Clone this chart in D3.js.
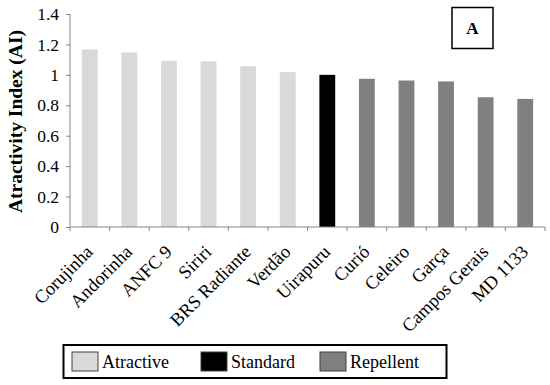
<!DOCTYPE html>
<html lang="en">
<head>
  <meta charset="UTF-8">
  <title>Atractivity Index</title>
  <script src="https://cdn.jsdelivr.net/npm/d3@7"></script>
  <style>
    body { margin: 0; background: #fff; }
  </style>
</head>
<body>
  <div id="chart"></div>

  <script>
    const cultivars = ["Corujinha", "Andorinha", "ANFC 9", "Siriri", "BRS Radiante", "Verdão",
      "Uirapuru", "Curió", "Celeiro", "Garça", "Campos Gerais", "MD 1133"];
    const values = [1.167, 1.147, 1.092, 1.088, 1.057, 1.018, 1.0, 0.974, 0.963, 0.957, 0.853, 0.842];
    const groups = ["Atractive", "Atractive", "Atractive", "Atractive", "Atractive", "Atractive",
      "Standard", "Repellent", "Repellent", "Repellent", "Repellent", "Repellent"];
    const legendNames = ["Atractive", "Standard", "Repellent"];
    const yTicks = [0, 0.2, 0.4, 0.6, 0.8, 1, 1.2, 1.4];

    const width = 550, height = 385;
    const plotLeft = 70, plotRight = 545, plotTop = 14, plotBottom = 227;
    const serif = '"Liberation Serif", "Times New Roman", serif';

    const svg = d3.select('#chart')
      .append('svg')
        .attr('width', width)
        .attr('height', height)
        .attr('font-family', serif);

    const x = d3.scaleBand()
      .domain(cultivars)
      .range([plotLeft, plotRight])
      .paddingInner(0.6)
      .paddingOuter(0.3);

    const y = d3.scaleLinear()
      .domain([0, 1.4])
      .range([plotBottom, plotTop]);

    const color = d3.scaleOrdinal()
      .domain(legendNames)
      .range(["#d9d9d9", "#000000", "#808080"]);

    // bars
    svg.append('g')
      .selectAll('rect')
      .data(cultivars)
      .join('rect')
        .attr('x', d => x(d))
        .attr('y', (d, i) => y(values[i]))
        .attr('width', x.bandwidth())
        .attr('height', (d, i) => y(0) - y(values[i]))
        .attr('fill', (d, i) => color(groups[i]));

    // y axis
    const yAxis = svg.append('g')
      .attr('transform', `translate(${plotLeft},0)`)
      .call(d3.axisLeft(y).tickValues(yTicks).tickSize(4).tickPadding(7)
        .tickFormat(d => d3.format('~g')(d)))
      .attr('font-family', serif)
      .attr('font-size', 17.5);
    yAxis.selectAll('line, path').attr('stroke', '#868686');
    yAxis.select('.domain').attr('d', `M0,${plotTop}V${plotBottom}`);
    yAxis.selectAll('text').attr('fill', '#000');

    // x axis, ticks between categories
    const edges = d3.range(cultivars.length + 1).map(i => plotLeft + i * (plotRight - plotLeft) / cultivars.length);
    const xAxis = svg.append('g');
    xAxis.append('line')
      .attr('x1', plotLeft).attr('x2', plotRight)
      .attr('y1', plotBottom).attr('y2', plotBottom)
      .attr('stroke', '#868686');
    xAxis.selectAll('.tk')
      .data(edges)
      .join('line')
        .attr('class', 'tk')
        .attr('x1', d => d).attr('x2', d => d)
        .attr('y1', plotBottom).attr('y2', plotBottom + 4)
        .attr('stroke', '#868686');

    xAxis.selectAll('text')
      .data(cultivars)
      .join('text')
        .attr('transform', d => `translate(${x(d) + x.bandwidth() / 2 + 4},${plotBottom + 26}) rotate(-45)`)
        .attr('text-anchor', 'end')
        .attr('font-size', 18.5)
        .text(d => d);

    // y axis title
    svg.append('text')
      .attr('transform', 'translate(22,121.5) rotate(-90)')
      .attr('text-anchor', 'middle')
      .attr('font-size', 19.5)
      .attr('font-weight', 'bold')
      .text('Atractivity Index (AI)');

    // panel label
    svg.append('rect')
      .attr('x', 452).attr('y', 7.5)
      .attr('width', 41).attr('height', 41)
      .attr('fill', '#fff').attr('stroke', '#000').attr('stroke-width', 1.5);
    svg.append('text')
      .attr('x', 472.5).attr('y', 34)
      .attr('text-anchor', 'middle')
      .attr('font-size', 17)
      .attr('font-weight', 'bold')
      .text('A');

    // legend
    const legend = svg.append('g');
    legend.append('rect')
      .attr('x', 63.5).attr('y', 345)
      .attr('width', 383).attr('height', 33)
      .attr('fill', '#fff').attr('stroke', '#000').attr('stroke-width', 2);
    const lx = [72, 201, 320];
    const item = legend.selectAll('.item')
      .data(legendNames)
      .join('g')
        .attr('class', 'item')
        .attr('transform', (d, i) => `translate(${lx[i]},352)`);
    item.append('rect')
      .attr('width', 26).attr('height', 19)
      .attr('fill', d => color(d))
      .attr('stroke', '#404040').attr('stroke-width', 1);
    item.append('text')
      .attr('x', 30).attr('y', 16)
      .attr('font-size', 18)
      .text(d => d);
  </script>
</body>
</html>
